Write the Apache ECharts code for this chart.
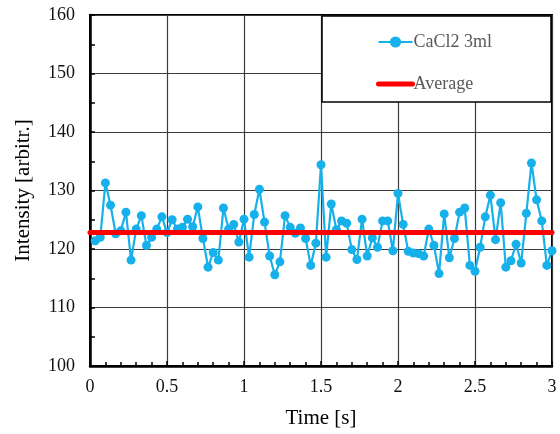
<!DOCTYPE html>
<html>
<head>
<meta charset="utf-8">
<script src="https://cdn.jsdelivr.net/npm/echarts@6/dist/echarts.min.js"></script>
<style>
  html, body { margin: 0; padding: 0; background: #fff; }
  #chart { width: 560px; height: 434px; }
</style>
</head>
<body>
<div id="chart"></div>
<script>
const STEP = 1 / 30;
const intensity = [
  121.4, 122.0, 131.3, 127.5, 122.6, 123.1, 126.3, 118.1, 123.4, 125.7,
  120.6, 122.0, 123.4, 125.5, 122.8, 125.0, 123.4, 123.7, 125.1, 123.8,
  127.2, 121.8, 116.9, 119.4, 118.1, 127.0, 123.4, 124.2, 121.2, 125.1,
  118.6, 125.9, 130.2, 124.6, 118.8, 115.6, 117.8, 125.7, 123.7, 122.7,
  123.6, 121.8, 117.2, 121.0, 134.4, 118.6, 127.7, 123.3, 124.8, 124.4,
  119.9, 118.2, 125.1, 118.8, 121.9, 120.3, 124.8, 124.8, 119.7, 129.5,
  124.2, 119.6, 119.3, 119.2, 118.8, 123.4, 120.6, 115.8, 126.0, 118.5,
  121.8, 126.3, 127.0, 117.2, 116.2, 120.3, 125.5, 129.2, 121.6, 127.9,
  116.9, 118.0, 120.8, 117.6, 126.1, 134.7, 128.4, 124.8, 117.2, 119.7
];
const averageValue = 122.8;
const averageSpan = [0, 3];

const SERIF = "'Liberation Serif', 'Times New Roman', serif";
const BLUE = '#16b0ea';
const RED = '#ff0000';

const traceData = intensity.map((v, i) => [(i + 1) * STEP, v]);
const avgData = averageSpan.map(t => [t, averageValue]);

const chart = echarts.init(document.getElementById('chart'));
chart.setOption({
  animation: false,
  backgroundColor: '#fff',
  grid: {
    left: 90, right: 8, top: 15, bottom: 65,
    show: true, borderColor: '#000', borderWidth: 2
  },
  graphic: [{
    type: 'rect', z: 10,
    shape: { x: 322, y: 16, width: 229, height: 86 },
    style: { fill: '#fff', stroke: '#000', lineWidth: 1.5 }
  }],
  legend: {
    z: 20,
    orient: 'vertical',
    left: 371, top: 28,
    itemWidth: 34, itemHeight: 14, itemGap: 24,
    textStyle: { fontFamily: SERIF, fontSize: 18, color: '#595959', padding: [0, 0, 0, -4] },
    data: [
      'CaCl2 3ml',
      { name: 'Average', lineStyle: { width: 5, cap: 'round', color: RED } }
    ]
  },
  xAxis: {
    type: 'value', min: 0, max: 3, interval: 0.5,
    name: 'Time [s]', nameLocation: 'middle', nameGap: 42,
    nameTextStyle: { fontFamily: SERIF, fontSize: 21, color: '#000' },
    axisLine: { show: true, lineStyle: { color: '#000', width: 2.5 } },
    axisTick: { show: true, inside: true, length: 5, lineStyle: { color: '#000', width: 1.5 } },
    minorTick: { show: true, splitNumber: 5, length: 4, lineStyle: { color: '#000', width: 1.5 } },
    axisLabel: { fontFamily: SERIF, fontSize: 18, color: '#111', margin: 12 },
    splitLine: { show: true, lineStyle: { color: '#3c3c3c', width: 1.2 } }
  },
  yAxis: {
    type: 'value', min: 100, max: 160, interval: 10,
    name: 'Intensity [arbitr.]', nameLocation: 'middle', nameGap: 56,
    nameTextStyle: { fontFamily: SERIF, fontSize: 21, color: '#000' },
    axisLine: { show: true, lineStyle: { color: '#000', width: 2.5 } },
    axisTick: { show: true, inside: true, length: 5, lineStyle: { color: '#000', width: 1.5 } },
    minorTick: { show: true, splitNumber: 2, length: 5, lineStyle: { color: '#000', width: 1.5 } },
    axisLabel: { fontFamily: SERIF, fontSize: 18, color: '#111', margin: 15 },
    splitLine: { show: true, lineStyle: { color: '#3c3c3c', width: 1.2 } }
  },
  series: [
    {
      name: 'CaCl2 3ml', type: 'line', data: traceData,
      symbol: 'circle', symbolSize: 9,
      itemStyle: { color: BLUE },
      lineStyle: { color: BLUE, width: 2.2 }
    },
    {
      // transparent symbol so the legend shows a plain thick red line
      name: 'Average', type: 'line', data: avgData,
      symbol: 'circle', showSymbol: false, z: 5,
      itemStyle: { color: 'rgba(0,0,0,0)', borderWidth: 0 },
      lineStyle: { color: RED, width: 5, cap: 'round' }
    }
  ]
});
</script>
</body>
</html>
